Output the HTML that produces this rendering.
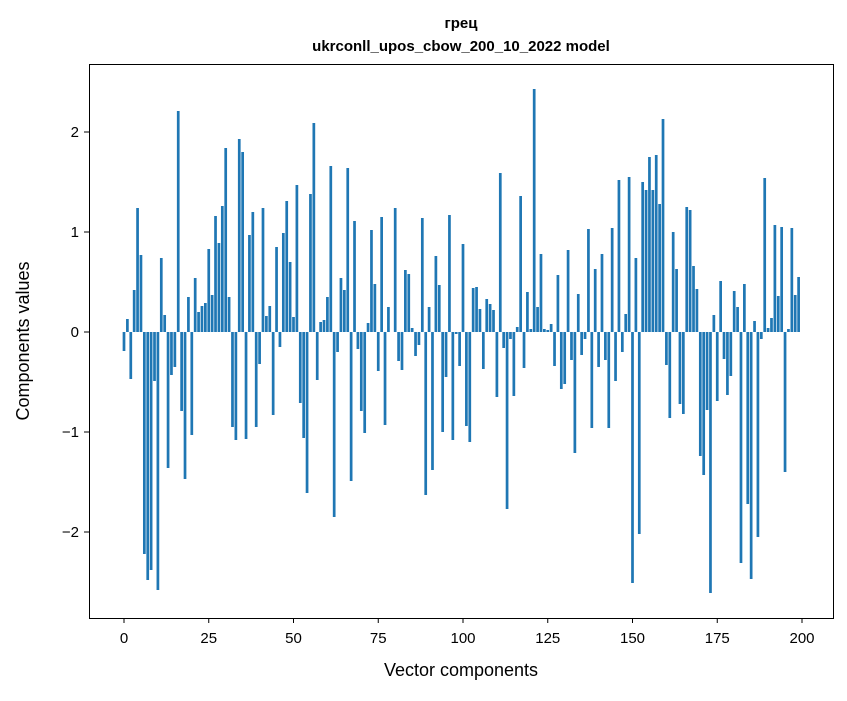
<!DOCTYPE html>
<html><head><meta charset="utf-8"><style>
body{margin:0;background:#fff;font-family:"Liberation Sans","DejaVu Sans",sans-serif}
</style></head><body>
<svg id="chart" width="847" height="696" xmlns="http://www.w3.org/2000/svg" font-family="Liberation Sans, DejaVu Sans, sans-serif">
<text x="461" y="28" text-anchor="middle" font-size="15" font-weight="bold">грец</text>
<text x="461" y="51" text-anchor="middle" font-size="15" font-weight="bold">ukrconll_upos_cbow_200_10_2022 model</text>
<g id="bars"></g>
<rect x="89.5" y="64.5" width="744" height="554" fill="none" stroke="#000" stroke-width="1"/>
<g id="xticks"></g>
<g id="yticks"></g>
<text x="461" y="676" text-anchor="middle" font-size="18">Vector components</text>
<text transform="translate(29,341) rotate(-90)" text-anchor="middle" font-size="18">Components values</text>
</svg>
<script>
const values = [
-0.19,0.13,-0.47,0.42,1.24,0.77,-2.22,-2.48,-2.38,-0.49,
-2.58,0.74,0.17,-1.36,-0.43,-0.35,2.21,-0.79,-1.47,0.35,
-1.03,0.54,0.2,0.26,0.29,0.83,0.37,1.16,0.89,1.26,
1.84,0.35,-0.95,-1.08,1.93,1.8,-1.07,0.97,1.2,-0.95,
-0.32,1.24,0.16,0.26,-0.83,0.85,-0.15,0.99,1.31,0.7,
0.15,1.47,-0.71,-1.06,-1.61,1.38,2.09,-0.48,0.1,0.12,
0.35,1.66,-1.85,-0.2,0.54,0.42,1.64,-1.49,1.11,-0.17,
-0.79,-1.01,0.09,1.02,0.48,-0.39,1.15,-0.93,0.25,0.0,
1.24,-0.29,-0.38,0.62,0.58,0.04,-0.24,-0.13,1.14,-1.63,
0.25,-1.38,0.76,0.47,-1.0,-0.45,1.17,-1.08,-0.02,-0.34,
0.88,-0.94,-1.1,0.44,0.45,0.23,-0.37,0.33,0.28,0.22,
-0.65,1.59,-0.16,-1.77,-0.07,-0.64,0.05,1.36,-0.36,0.4,
0.03,2.43,0.25,0.78,0.03,0.02,0.08,-0.34,0.57,-0.57,
-0.52,0.82,-0.28,-1.21,0.38,-0.23,-0.07,1.03,-0.96,0.63,
-0.35,0.78,-0.28,-0.96,1.04,-0.49,1.52,-0.2,0.18,1.55,
-2.51,0.74,-2.02,1.5,1.42,1.75,1.42,1.77,1.28,2.13,
-0.33,-0.86,1.0,0.63,-0.72,-0.82,1.25,1.22,0.66,0.43,
-1.24,-1.43,-0.78,-2.61,0.17,-0.69,0.51,-0.27,-0.63,-0.44,
0.41,0.25,-2.31,0.48,-1.72,-2.47,0.11,-2.05,-0.07,1.54,
0.04,0.14,1.07,0.36,1.05,-1.4,0.03,1.04,0.37,0.55
];
const xTicks = [0,25,50,75,100,125,150,175,200];
const yTicks = [-2,-1,0,1,2];
const yTickLabels = ["\u22122","\u22121","0","1","2"];

const NS = "http://www.w3.org/2000/svg";
function xs(v){ return 124 + v * 3.39; }
function ys(v){ return 332 - v * 100; }
const bw = 0.8 * 3.39;
const gb = document.getElementById('bars');
values.forEach((v, i) => {
  const r = document.createElementNS(NS, 'rect');
  
  
  r.setAttribute('x', xs(i) - bw / 2);
  r.setAttribute('width', bw);
  r.setAttribute('y', Math.min(ys(v), ys(0)));
  r.setAttribute('height', Math.abs(ys(v) - ys(0)));
  r.setAttribute('fill', '#1f77b4');
  gb.appendChild(r);
});
const gx = document.getElementById('xticks');
xTicks.forEach(t => {
  const l = document.createElementNS(NS, 'line');
  
  
  l.setAttribute('x1', xs(t)); l.setAttribute('x2', xs(t));
  l.setAttribute('y1', 618); l.setAttribute('y2', 623);
  l.setAttribute('stroke', '#000');
  gx.appendChild(l);
  const tx = document.createElementNS(NS, 'text');
  
  
  tx.setAttribute('x', xs(t)); tx.setAttribute('y', 643);
  tx.setAttribute('text-anchor', 'middle');
  tx.setAttribute('font-size', '15');
  tx.textContent = t;
  gx.appendChild(tx);
});
const gy = document.getElementById('yticks');
yTicks.forEach((t, k) => {
  const l = document.createElementNS(NS, 'line');
  
  
  l.setAttribute('x1', 84); l.setAttribute('x2', 89);
  l.setAttribute('y1', ys(t)); l.setAttribute('y2', ys(t));
  l.setAttribute('stroke', '#000');
  gy.appendChild(l);
  const tx = document.createElementNS(NS, 'text');
  
  
  tx.setAttribute('x', 79); tx.setAttribute('y', ys(t) + 5);
  tx.setAttribute('text-anchor', 'end');
  tx.setAttribute('font-size', '15');
  tx.textContent = yTickLabels[k];
  gy.appendChild(tx);
});
</script>
</body></html>
